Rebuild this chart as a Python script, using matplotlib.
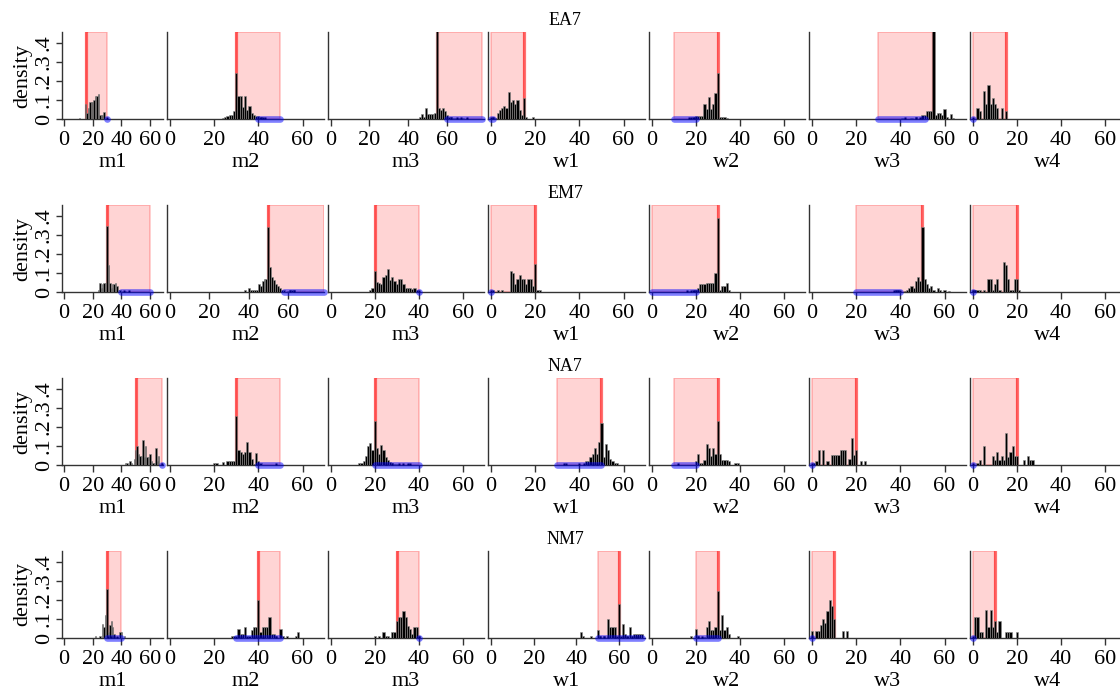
import matplotlib
matplotlib.use("Agg")
import matplotlib.pyplot as plt

plt.rcParams["font.family"] = ["Liberation Serif", "DejaVu Serif"]

# ---------------- data ----------------
rows = ["EA7", "EM7", "NA7", "NM7"]
cols = ["m1", "m2", "m3", "w1", "w2", "w3", "w4"]

x_ticks = [0, 20, 40, 60]
y_ticks = [0, 0.1, 0.2, 0.3, 0.4]
y_tick_labels = ["0", ".1", ".2", ".3", ".4"]

red_x = [[15, 30, 55, 15, 30, 55, 15],
         [30, 50, 20, 20, 30, 50, 20],
         [50, 30, 20, 50, 30, 20, 20],
         [30, 40, 30, 60, 30, 10, 10]]
rect_lo = [[15, 30, 55, 0, 10, 30, 0],
           [30, 50, 20, 0, 0, 20, 0],
           [50, 30, 20, 30, 10, 0, 0],
           [30, 40, 30, 50, 20, 0, 0]]
rect_hi = [[30, 50, 78, 15, 30, 55, 15],
           [60, 78, 40, 20, 30, 50, 20],
           [68.5, 50, 40, 50, 30, 20, 20],
           [40, 50, 40, 60, 30, 10, 10]]
blue_lo = [[30, 40, 60, 0, 10, 30, 0],
           [40, 58, 40, 0, 0, 20, 0],
           [68, 40, 20, 30, 10, 0, 0],
           [30, 30, 40, 50, 20, 0, 0]]
blue_hi = [[30, 50, 78, 1, 20, 51, 0],
           [60, 78, 40, 0, 20, 40, 0],
           [68, 50, 40, 50, 20, 0, 0],
           [40, 50, 40, 71, 30, 0, 0]]
x_max = [[69, 69.5, 79, 69.5, 69.5, 69.5, 69.5],
         [69, 78, 69.5, 69.5, 69.5, 69.5, 69.5],
         [69, 69.5, 69.5, 69.5, 69.5, 69.5, 69.5],
         [69, 69.5, 69.5, 72, 69.5, 69.5, 69.5]]

dots_EA7 = {"m1": [30], "m2": [40, 41, 42, 43], "m3": [60, 62, 65, 67, 70],
            "w1": [0, 1], "w2": [17, 18, 19, 20], "w3": [42, 47, 49, 50], "w4": [0]}
dots_EM7 = {"m1": [42, 45], "m2": [61, 63], "m3": [40], "w1": [0],
            "w2": [16, 18, 19, 20], "w3": [37, 38, 39, 40], "w4": [0, 1]}
dots_NA7 = {"m1": [68], "m2": [40, 48], "m3": [22, 25, 28, 31, 33, 35, 36],
            "w1": [33, 34, 40, 42, 44, 46, 48], "w2": [12], "w3": [0], "w4": [0]}
dots_NM7 = {"m1": [31, 33, 35, 37], "m2": [30, 32, 35, 38, 40, 42, 45, 48], "m3": [40],
            "w1": [51, 53, 55, 58, 60, 62, 64, 66, 68, 69], "w2": [21, 23, 26, 28],
            "w3": [0], "w4": [0]}

# histogram: (first bin centre, densities for consecutive unit bins)
hist_EA7 = {
    "m1": (11, [0.005, 0, 0, 0, 0.08, 0.03, 0.06, 0.09, 0.09, 0.09, 0.10, 0.12, 0.12, 0.13,
                0.02, 0.02, 0.02, 0.035]),
    "m2": (24, [0.005, 0.01, 0.015, 0.02, 0.02, 0.04, 0.24, 0.12, 0.12, 0.065, 0.12, 0.05,
                0.07, 0.03, 0.02, 0.015, 0.015, 0.01, 0.005]),
    "m3": (46, [0.01, 0.026, 0.01, 0.056, 0.026, 0.026, 0.026, 0.026, 0.03, 0.6, 0.06, 0.05,
                0.06, 0.04, 0.02, 0.01, 0.01, 0.005, 0.005, 0, 0.005, 0, 0.005, 0, 0.005]),
    "w1": (1, [0.01, 0.005, 0.03, 0.05, 0.06, 0.07, 0.06, 0.14, 0.09, 0.10, 0.08, 0.10, 0.05,
               0.02, 0.11, 0.01, 0, 0, 0.01]),
    "w2": (18, [0.005, 0.01, 0.015, 0.015, 0.015, 0.015, 0.08, 0.053, 0.118, 0.053, 0.079,
                0.135, 0.24, 0.012, 0.01, 0.01, 0.005]),
    "w3": (41, [0.005, 0, 0, 0, 0.005, 0, 0.01, 0, 0, 0.02, 0.02, 0.04, 0.04, 0.04, 0.6, 0.02,
                0.03, 0.03, 0.02, 0.055, 0.01, 0, 0.025, 0.005]),
    "w4": (2, [0.06, 0.04, 0, 0.15, 0.08, 0.18, 0.08, 0.11, 0.08, 0.06, 0, 0.06, 0, 0.04]),
}
hist_EM7 = {
    "m1": (24, [0.01, 0.05, 0.02, 0.04, 0.05, 0.05, 0.35, 0.14, 0.05, 0.02, 0.04, 0.04, 0.05,
                0.03, 0.01, 0.01, 0.005, 0, 0, 0.005]),
    "m2": (38, [0.01, 0, 0.02, 0.01, 0.01, 0.01, 0.01, 0.04, 0.03, 0.06, 0.07, 0.07, 0.34,
                0.13, 0.08, 0.065, 0.04, 0.03, 0.02, 0.01, 0.01, 0, 0.005, 0.01, 0.01, 0.01]),
    "m3": (18, [0.01, 0.02, 0.11, 0.055, 0.05, 0.04, 0.08, 0.09, 0.12, 0.065, 0.08, 0.06,
                0.04, 0.07, 0.07, 0.04, 0.02, 0.02, 0.02, 0.015, 0.02, 0.012]),
    "w1": (1, [0.01, 0, 0.01, 0, 0.01, 0, 0, 0, 0.11, 0.10, 0.04, 0.07, 0.09, 0.07, 0.07,
               0.04, 0.07, 0.07, 0.03, 0.15, 0.01, 0.01]),
    "w2": (17, [0.005, 0, 0.01, 0.01, 0.02, 0.04, 0.04, 0.04, 0.05, 0.05, 0.05, 0.05, 0.1,
                0.39, 0.01, 0.03, 0.03, 0.05, 0.01]),
    "w3": (38, [0.01, 0.01, 0, 0, 0.005, 0.01, 0.02, 0.03, 0.02, 0.06, 0.08, 0.06, 0.34, 0.07,
                0.04, 0.02, 0.03, 0.01, 0, 0.02, 0.01, 0, 0.01, 0, 0.005]),
    "w4": (0, [0.01, 0.01, 0.01, 0.01, 0, 0.01, 0, 0.07, 0.07, 0.01, 0.04, 0.07, 0.01, 0,
               0.16, 0.14, 0.07, 0.01, 0.01, 0.07, 0.07, 0.01]),
}
hist_NA7 = {
    "m1": (43, [0.01, 0.01, 0, 0.02, 0.01, 0, 0.03, 0.08, 0.10, 0.06, 0.05, 0.05, 0.13, 0.04,
                0.10, 0.04, 0.04, 0.06, 0.02, 0.01, 0.01, 0.09, 0.02, 0.05, 0, 0.01]),
    "m2": (20, [0.01, 0.01, 0, 0, 0.015, 0, 0.02, 0.02, 0.02, 0.02, 0.26, 0.08, 0.07, 0.06,
                0.07, 0.12, 0.07, 0.03, 0.005, 0.065, 0.02, 0.01]),
    "m3": (13, [0.012, 0.012, 0.02, 0.05, 0.10, 0.115, 0.08, 0.23, 0.09, 0.06, 0.105, 0.08,
                0.04, 0.025, 0.015, 0.01, 0.005, 0.005, 0, 0, 0, 0, 0.005]),
    "w1": (43, [0.02, 0.02, 0.04, 0.06, 0.09, 0.06, 0.12, 0.22, 0.04, 0.11, 0.08, 0.03, 0.02,
                0.012, 0.008]),
    "w2": (20, [0.02, 0.06, 0.012, 0.012, 0.025, 0.11, 0.09, 0.045, 0.09, 0.06, 0.23, 0.06,
                0.025, 0.025, 0.025, 0.02, 0, 0, 0.012, 0.012]),
    "w3": (1, [0.01, 0.02, 0.08, 0, 0.08, 0, 0.02, 0, 0.055, 0.055, 0.055, 0.055, 0.08, 0.08,
               0.08, 0, 0.03, 0.14, 0.055, 0.08, 0, 0.02, 0, 0.02]),
    "w4": (2, [0.01, 0.025, 0, 0.1, 0, 0, 0, 0.05, 0.025, 0.07, 0.025, 0.05, 0.025, 0.17, 0.04,
               0.07, 0.1, 0.05, 0.05, 0, 0, 0.025, 0, 0.05, 0.025, 0.025]),
}
hist_NM7 = {
    "m1": (22, [0.01, 0, 0, 0.01, 0, 0.075, 0.06, 0.12, 0.26, 0.03, 0.07, 0.09, 0.06, 0.02, 0,
                0.005, 0, 0.03, 0.03, 0, 0.01]),
    "m2": (28, [0.01, 0.01, 0, 0.05, 0.02, 0.02, 0.06, 0, 0.01, 0.04, 0.06, 0.06, 0.2, 0.03,
                0.06, 0.06, 0.06, 0.11, 0.02, 0.02, 0.01, 0, 0.05, 0.01, 0, 0.01, 0, 0, 0,
                0.01, 0.03]),
    "m3": (20, [0.01, 0, 0.01, 0, 0.03, 0.01, 0.01, 0, 0.03, 0.03, 0.09, 0.11, 0.11, 0.14,
                0.11, 0.065, 0.05, 0.02, 0.06, 0.06, 0.01]),
    "w1": (42, [0.03, 0.01, 0, 0, 0, 0.01, 0, 0, 0.04, 0.01, 0, 0.01, 0, 0.1, 0.06, 0.06, 0.06,
                0.01, 0.18, 0.01, 0.075, 0.02, 0.01, 0.06, 0.01, 0.02, 0.02, 0.02, 0.02, 0.02]),
    "w2": (18, [0.01, 0, 0.045, 0.01, 0, 0, 0.005, 0.06, 0.09, 0.04, 0.04, 0.06, 0.25, 0.04,
                0.12, 0.04, 0.06, 0.02, 0, 0, 0, 0.01]),
    "w3": (0, [0.035, 0, 0.035, 0.035, 0.07, 0.1, 0.08, 0.14, 0.2, 0.17, 0.1, 0, 0, 0, 0.035,
               0, 0.035]),
    "w4": (1, [0.11, 0.11, 0.03, 0.03, 0, 0.145, 0.06, 0.145, 0.06, 0.09, 0.03, 0.09, 0, 0,
               0.03, 0.03, 0.03, 0, 0, 0.03]),
}

all_hists = [hist_EA7, hist_EM7, hist_NA7, hist_NM7]
all_dots = [dots_EA7, dots_EM7, dots_NA7, dots_NM7]

# ---------------- layout ----------------
W, H = 1120, 692
fig = plt.figure(figsize=(W / 100, H / 100), dpi=100)
col_left = [62, 167, 327.5, 488, 648.5, 809, 970]
col_right = [163, 323.5, 484, 644.5, 805, 965.5, 1126]
ROW_TOP, ROW_BASE, ROW_STEP = 32, 119, 173
Y_TOP = 0.458
AX_COL = "#333333"
FS = 16

for r, rname in enumerate(rows):
    top = ROW_TOP + ROW_STEP * r
    base = ROW_BASE + ROW_STEP * r
    fig.text(565 / W, 1 - (25 + ROW_STEP * r) / H, rname, ha="center", va="baseline",
             fontsize=13)
    for c, cname in enumerate(cols):
        L, R = col_left[c], col_right[c]
        ax = fig.add_axes([L / W, 1 - base / H, (R - L) / W, (base - top) / H])
        xm = x_max[r][c]
        ax.set_xlim(-0.02 * xm, xm)
        ax.set_ylim(0, Y_TOP)

        ax.axvspan(rect_lo[r][c], rect_hi[r][c], ymin=0, ymax=1,
                   facecolor=(1, 0, 0, 0.17), edgecolor=(1, 0, 0, 0.22), lw=1.2, zorder=1)
        ax.axvline(red_x[r][c], color=(1, 0, 0, 0.55), lw=2.3, zorder=2)

        start, dens = all_hists[r][cname]
        xs = [start + i for i, d in enumerate(dens) if d > 0]
        hs = [d for d in dens if d > 0]
        ax.bar(xs, hs, width=1, color="black", edgecolor="#8c8c8c", linewidth=0.4, zorder=3)

        blo, bhi = blue_lo[r][c], blue_hi[r][c]
        if bhi > blo:
            ax.plot([blo, bhi], [0, 0], color=(0, 0, 1, 0.5), lw=4.8,
                    solid_capstyle="round", zorder=4, clip_on=False)
        else:
            ax.plot([blo], [0], "o", color=(0, 0, 1, 0.5), ms=4.8, mec="none",
                    zorder=4, clip_on=False)
        d = all_dots[r][cname]
        ax.plot(d, [0.003] * len(d), "s", color="#000080", ms=1.8, mec="none", zorder=5,
                clip_on=False)

        for s in ("top", "right"):
            ax.spines[s].set_visible(False)
        for s in ("left", "bottom"):
            ax.spines[s].set_color(AX_COL)
            ax.spines[s].set_linewidth(1.0)
        ax.set_xticks(x_ticks)
        ax.set_xticklabels([str(t) for t in x_ticks])
        ax.tick_params(axis="x", length=5, width=1, color=AX_COL, labelsize=FS, pad=3.5)
        ax.set_xlabel(cname, fontsize=FS, labelpad=2)
        if c == 0:
            ax.set_yticks(y_ticks)
            ax.set_yticklabels(y_tick_labels, rotation=90, va="center")
            ax.tick_params(axis="y", length=4, width=1, color=AX_COL, labelsize=FS, pad=2)
            ax.set_ylabel("density", fontsize=FS, labelpad=2)
        else:
            ax.set_yticks([])

fig.savefig("out.png", dpi=100)
